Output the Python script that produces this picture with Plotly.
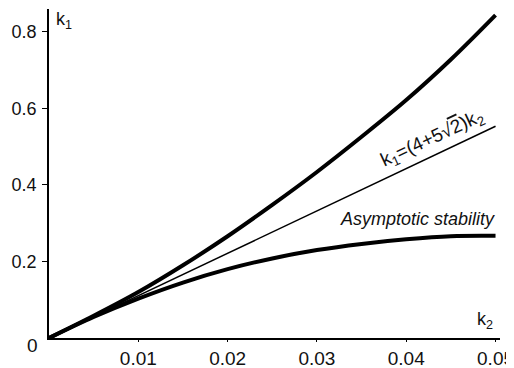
import plotly.graph_objects as go

k2 = [0, 0.005, 0.01, 0.015, 0.02, 0.025, 0.03, 0.035, 0.04, 0.045, 0.05]
k1_upper = [0, 0.058, 0.120, 0.190, 0.266, 0.348, 0.434, 0.526, 0.622, 0.728, 0.844]
k1_lower = [0, 0.055, 0.103, 0.145, 0.180, 0.208, 0.230, 0.246, 0.258, 0.266, 0.267]
line_k2 = [0, 0.05]
coef = 4 + 5 * 2 ** 0.5
line_k1 = [coef * v for v in line_k2]

x_ticks = [0.01, 0.02, 0.03, 0.04, 0.05]
x_ticktext = ["0.01", "0.02", "0.03", "0.04", "0.05"]
y_ticks = [0.2, 0.4, 0.6, 0.8]
y_ticktext = ["0.2", "0.4", "0.6", "0.8"]
origin_label = "0"

FONT = "Liberation Sans, Arial, sans-serif"
INK = "#111111"

fig = go.Figure()
fig.add_trace(go.Scatter(x=k2, y=k1_upper, mode="lines", line=dict(color="black", width=4, shape="spline", smoothing=1.0), showlegend=False))
fig.add_trace(go.Scatter(x=line_k2, y=line_k1, mode="lines", line=dict(color="black", width=1.5), showlegend=False))
fig.add_trace(go.Scatter(x=k2, y=k1_lower, mode="lines", line=dict(color="black", width=4, shape="spline", smoothing=1.0), showlegend=False))

fig.update_layout(
    width=514, height=368,
    margin=dict(l=41, r=21.5, t=1, b=38),
    paper_bgcolor="white", plot_bgcolor="white",
    font=dict(family=FONT, size=18, color=INK),
    xaxis=dict(range=[0, 0.0505], tickvals=x_ticks, ticktext=x_ticktext, showgrid=False, zeroline=False,
               showline=True, linecolor="black", linewidth=1.5, ticks="outside", ticklen=2, tickcolor="black",
               ticklabelstandoff=0, ticklabeloverflow="allow", automargin=False, tickfont=dict(size=19, color=INK)),
    yaxis=dict(range=[0, 0.86], tickvals=y_ticks, ticktext=y_ticktext, showgrid=False, zeroline=False,
               showline=True, linecolor="black", linewidth=1.5, ticks="outside", ticklen=5, tickcolor="black",
               ticklabelstandoff=2, automargin=False, tickfont=dict(size=18, color=INK)),
    annotations=[
        dict(x=0, y=0, xref="paper", yref="paper", xanchor="right", yanchor="top", xshift=-9, yshift=5,
             text=origin_label, showarrow=False, font=dict(size=19)),
        dict(x=0.0017, y=0.829, xref="x", yref="y", text="k<sub>1</sub>", showarrow=False, font=dict(size=18)),
        dict(x=0.0488, y=0.045, xref="x", yref="y", text="k<sub>2</sub>", showarrow=False, font=dict(size=18)),
        dict(x=0.0429, y=0.52, xref="x", yref="y", text="k<sub>1</sub>=(4+5√<span style='text-decoration:overline'>2</span>)k<sub>2</sub>",
             showarrow=False, textangle=-25, font=dict(size=19)),
        dict(x=0.0413, y=0.311, xref="x", yref="y", text="<i>Asymptotic stability</i>", showarrow=False, font=dict(size=18)),
    ],
)

fig.write_html("out.html")
